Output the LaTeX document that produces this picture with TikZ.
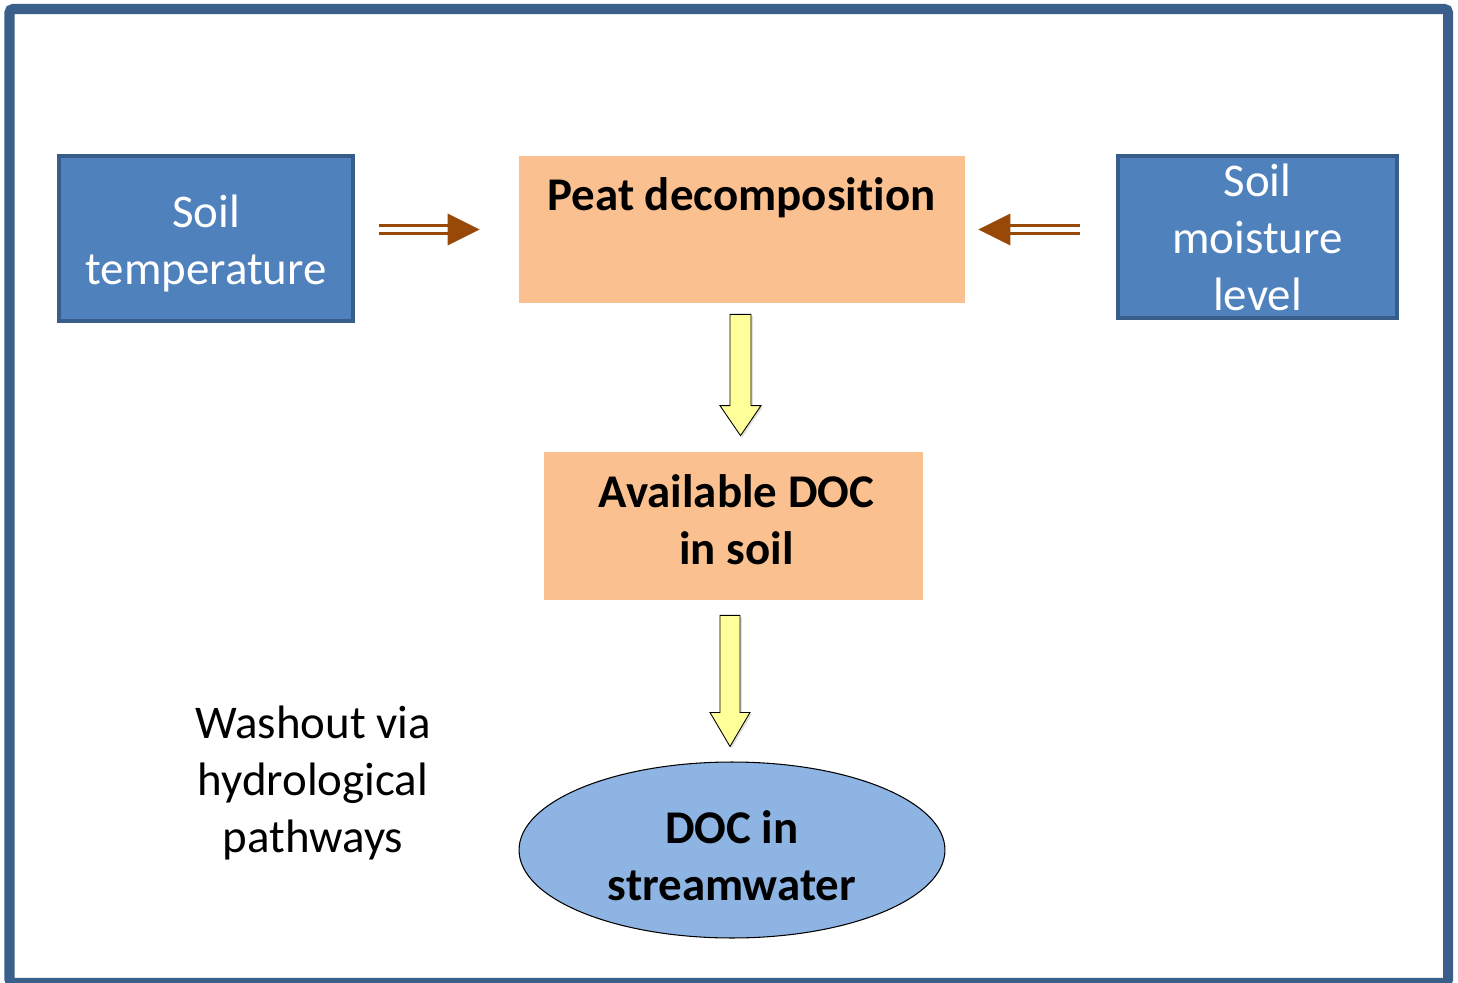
\documentclass[tikz,border=0pt]{standalone}
\usepackage{fontspec}
\setmainfont[Ligatures=NoCommon]{Carlito}
\usetikzlibrary{arrows.meta, calc, shapes.geometric, shadows}
\tikzset{>=stealth}

\definecolor{frameblue}{RGB}{58,95,139}
\definecolor{boxblue}{RGB}{79,129,189}
\definecolor{boxedge}{RGB}{56,93,138}
\definecolor{peach}{RGB}{250,192,144}
\definecolor{lightblue}{RGB}{141,180,226}
\definecolor{rust}{RGB}{152,72,7}
\definecolor{paleyellow}{RGB}{255,255,153}

\tikzset{
    bigtext/.style={font=\fontsize{26.7}{32.4}\selectfont, align=center},
    boldtext/.style={bigtext, font=\fontsize{26.7}{32.4}\selectfont\bfseries},
    driver/.style={draw=boxedge, line width=2.3pt, fill=boxblue, inner sep=0pt},
    pool/.style={fill=peach, inner sep=0pt},
    dblarrow/.style={draw=rust, line width=2pt, double=white, double distance=2.3pt,
        -{Triangle[length=0.64cm, width=0.62cm]}},
    yarrow/.style={draw=black, line width=0.5pt, fill=paleyellow, line join=miter,
        drop shadow={shadow xshift=1pt, shadow yshift=-1pt, opacity=0.25}}
}

\begin{document}
\begin{tikzpicture}[x=0.02cm, y=-0.02cm]
    \useasboundingbox (0,0) rectangle (1458,983);
    \draw[frameblue, line width=5.7pt, rounded corners=2pt] (9.5,9) rectangle (1448,983);

    % drivers and pools
    \node[driver, minimum width=5.88cm, minimum height=3.3cm] (temp) at (206,238.5) {};
    \node[bigtext, text=white] (temptxt) at ($(temp)+(0,5)$) {Soil\\temperature};
    \node[driver, minimum width=5.58cm, minimum height=3.24cm] (moist) at (1257.5,237) {};
    \node[bigtext, text=white] (moisttxt) at (moist) {Soil\\moisture\\level};
    \node[pool, minimum width=8.92cm, minimum height=2.94cm] (peat) at (742,229.5) {};
    \node[boldtext, anchor=base] (peattxt) at (741.5,211) {Peat decomposition};
    \node[pool, minimum width=7.58cm, minimum height=2.96cm] (doc) at (733.5,526) {};
    \node[boldtext] (doctxt) at ($(doc)+(3,-6)$) {Available DOC\\in soil};
    \node[ellipse, draw=black, line width=0.6pt, fill=lightblue, minimum width=8.52cm, minimum height=3.52cm,
        inner sep=0pt] (stream) at (732,850) {};
    \node[boldtext] (streamtxt) at ($(stream)+(0,6)$) {DOC in\\streamwater};
    \node[bigtext] (washout) at (313,783) {Washout via\\hydrological\\pathways};

    % influences on decomposition
    \draw[dblarrow] ($(peat.west -| temp.east)+(24,0)$) -- ($(peat.west)+(-39,0)$);
    \draw[dblarrow] ($(peat.east -| moist.west)+(-36,0)$) -- ($(peat.east)+(13,0)$);

    % block arrows down the chain
    \coordinate (a1) at ($(peat.south)+(-1.5,11)$);
    \coordinate (a1tip) at ($(a1 |- doc.north)+(0,-16)$);
    \draw[yarrow] ($(a1)+(-10.5,0)$) -- ($(a1)+(10.5,0)$) -- ($(a1tip)+(10.5,-30)$) -- ($(a1tip)+(20.5,-30)$)
        -- (a1tip) -- ($(a1tip)+(-20.5,-30)$) -- ($(a1tip)+(-10.5,-30)$) -- cycle;
    \coordinate (a2) at ($(doc.south)+(-3.5,15)$);
    \coordinate (a2tip) at ($(a2 |- stream.north)+(0,-15)$);
    \draw[yarrow] ($(a2)+(-10,0)$) -- ($(a2)+(10,0)$) -- ($(a2tip)+(10,-34)$) -- ($(a2tip)+(20,-34)$)
        -- (a2tip) -- ($(a2tip)+(-20,-34)$) -- ($(a2tip)+(-10,-34)$) -- cycle;
\end{tikzpicture}
\end{document}
